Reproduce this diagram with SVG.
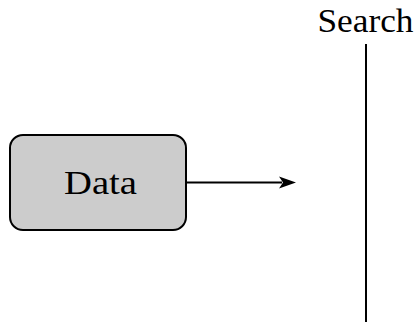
<svg xmlns="http://www.w3.org/2000/svg" width="414" height="322" viewBox="0 0 414 322">
  <style>
    .label { font-family: "Liberation Serif", "DejaVu Serif", serif; font-size: 34px; fill: #000; }
    .box { fill: #cccccc; stroke: #000; stroke-width: 2; }
    .edge { stroke: #000; stroke-width: 2; fill: none; }
  </style>
  <rect width="414" height="322" fill="#fff"/>
  <g id="data">
    <rect class="box" x="10" y="135" width="176" height="95" rx="13" ry="13"/>
    <text class="label" x="100.5" y="193.5" text-anchor="middle" textLength="73" lengthAdjust="spacingAndGlyphs">Data</text>
  </g>
  <g id="search">
    <text class="label" x="365.5" y="31.5" text-anchor="middle" textLength="96" lengthAdjust="spacingAndGlyphs">Search</text>
    <line class="edge" x1="366" y1="44" x2="366" y2="322"/>
  </g>
  <g id="connectors">
    <line class="edge" x1="186" y1="182.5" x2="282" y2="182.5"/>
    <path d="M296,182.5 L279,176.5 L283,182.5 L279,188.5 Z" fill="#000"/>
  </g>
</svg>
